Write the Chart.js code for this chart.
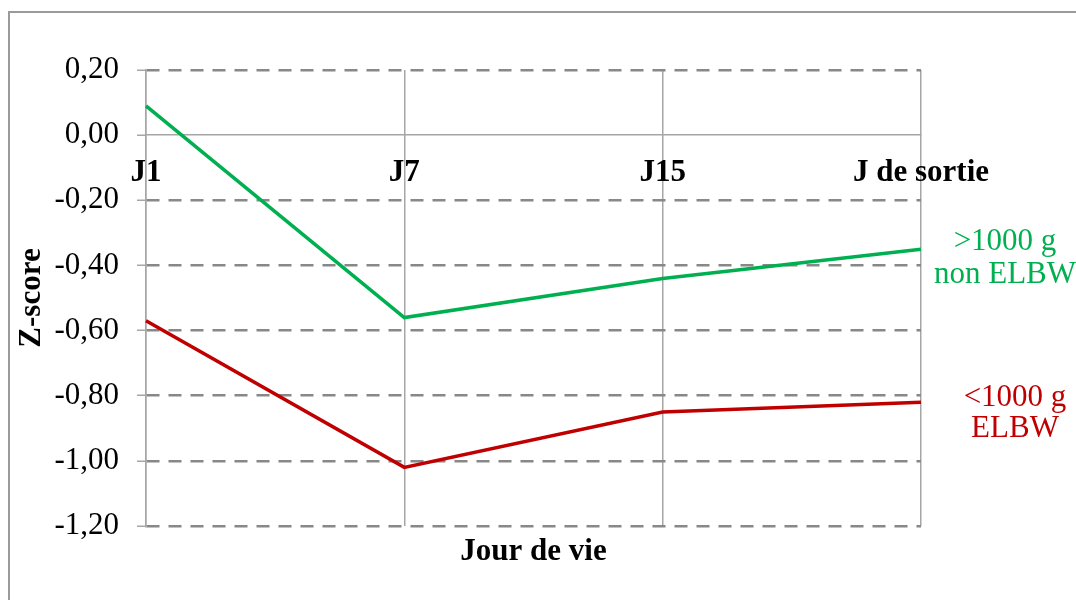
<!DOCTYPE html>
<html>
<head>
<meta charset="utf-8">
<script src="https://cdn.jsdelivr.net/npm/chart.js@4"></script>
<style>
  html, body { margin: 0; padding: 0; background: #fff; overflow: hidden; }
  #wrap { position: relative; width: 1076px; height: 600px; }
  #frame { position: absolute; left: 8px; top: 11px; width: 2000px; height: 2000px;
           border-left: 2px solid #9a9a9a; border-top: 2px solid #9a9a9a; }
  canvas { position: absolute; left: 0; top: 0; }
</style>
</head>
<body>
<div id="wrap">
  <div id="frame"></div>
  <canvas id="zChart" width="1076" height="600"></canvas>
</div>
<script>
// jours
const labels = ['J1', 'J7', 'J15', 'J de sortie'];
// Z-score moyen
const nonElbw = [0.09, -0.56, -0.44, -0.35];
const elbw = [-0.57, -1.02, -0.85, -0.82];
const seriesNames = [['>1000 g', 'non ELBW'], ['<1000 g', 'ELBW']];
const yTicksMin = -1.2;
const yTicksMax = 0.2;
const yStep = 0.2;

const GREEN = '#00B050';
const RED = '#C00000';
const FONT = "'Liberation Serif', 'Times New Roman', serif";

// etiquettes a droite de la derniere valeur
const endLabels = {
  id: 'endLabels',
  afterDatasetsDraw(chart) {
    const ctx = chart.ctx;
    const offs = [{dx: 84, dy: [-7, 26]}, {dx: 94, dy: [-4, 27]}];
    ctx.save();
    ctx.font = '31px ' + FONT;
    ctx.textAlign = 'center';
    ctx.textBaseline = 'middle';
    chart.data.datasets.forEach((ds, i) => {
      const meta = chart.getDatasetMeta(i);
      const pt = meta.data[meta.data.length - 1];
      ctx.fillStyle = ds.borderColor;
      seriesNames[i].forEach((line, k) => {
        ctx.fillText(line, pt.x + offs[i].dx, pt.y + offs[i].dy[k]);
      });
    });
    ctx.restore();
  }
};

const config = {
  type: 'line',
  data: {
    labels: labels,
    datasets: [{
      label: seriesNames[0].join(' '),
      data: nonElbw,
      borderColor: GREEN,
      borderWidth: 3.5,
      pointRadius: 0,
      tension: 0
    }, {
      label: seriesNames[1].join(' '),
      data: elbw,
      borderColor: RED,
      borderWidth: 3.5,
      pointRadius: 0,
      tension: 0
    }]
  },
  options: {
    responsive: false,
    animation: false,
    layout: { padding: { left: 8, top: 70, right: 155, bottom: 0 } },
    plugins: { legend: { display: false }, tooltip: { enabled: false } },
    scales: {
      x: {
        type: 'category',
        position: { y: 0 },
        offset: false,
        afterFit: s => { s.height = 0; },
        grid: { display: true, color: '#a6a6a6', lineWidth: 1.5, drawTicks: false },
        border: { display: true, color: '#a6a6a6', width: 1.5 },
        ticks: {
          color: '#000', padding: 19, maxRotation: 0, autoSkip: false,
          font: { family: FONT, size: 31, weight: 'bold' }
        }
      },
      x2: {
        type: 'category',
        position: 'bottom',
        afterFit: s => { s.height = 74; },
        grid: { display: false },
        border: { display: false },
        ticks: { display: false },
        title: {
          display: true, text: 'Jour de vie', color: '#000',
          padding: { top: 0, bottom: 29 },
          font: { family: FONT, size: 31, weight: 'bold' }
        }
      },
      y: {
        min: yTicksMin,
        max: yTicksMax,
        afterFit: s => { s.width = 138; },
        ticks: {
          stepSize: yStep, color: '#000', padding: 18,
          font: { family: FONT, size: 31 },
          callback: v => (Math.abs(v) < 1e-9 ? 0 : v).toFixed(2).replace('.', ',')
        },
        grid: {
          color: c => (c.tick && Math.abs(c.tick.value) < 1e-9) ? 'rgba(0,0,0,0)' : '#888888',
          lineWidth: 2.5,
          tickColor: '#a6a6a6',
          tickLength: 9,
          tickWidth: 1.5,
          tickBorderDash: []
        },
        border: { display: true, color: '#a6a6a6', width: 1.5, dash: [13, 9] },
        title: {
          display: true, text: 'Z-score', color: '#000',
          padding: { top: 5, bottom: 0 },
          font: { family: FONT, size: 31, weight: 'bold' }
        }
      }
    }
  },
  plugins: [endLabels]
};

const zChart = new Chart(document.getElementById('zChart'), config);
</script>
</body>
</html>
